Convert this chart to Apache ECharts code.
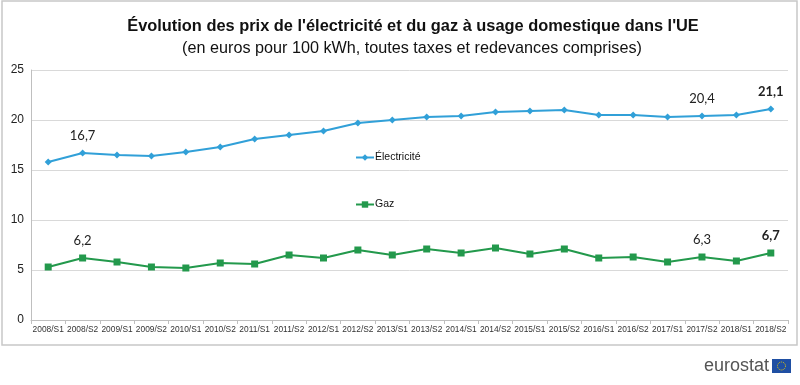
<!DOCTYPE html>
<html>
<head>
<meta charset="utf-8">
<script src="https://cdn.jsdelivr.net/npm/echarts@6/dist/echarts.min.js"></script>
<style>
html,body{margin:0;padding:0;background:#fff;}
#c{width:800px;height:385px;}
</style>
</head>
<body>
<div id="c"></div>
<script>
var categories = ['2008/S1','2008/S2','2009/S1','2009/S2','2010/S1','2010/S2','2011/S1','2011/S2','2012/S1','2012/S2','2013/S1','2013/S2','2014/S1','2014/S2','2015/S1','2015/S2','2016/S1','2016/S2','2017/S1','2017/S2','2018/S1','2018/S2'];
var electricite = [15.8,16.7,16.5,16.4,16.8,17.3,18.1,18.5,18.9,19.7,20.0,20.3,20.4,20.8,20.9,21.0,20.5,20.5,20.3,20.4,20.5,21.1];
var gaz = [5.3,6.2,5.8,5.3,5.2,5.7,5.6,6.5,6.2,7.0,6.5,7.1,6.7,7.2,6.6,7.1,6.2,6.3,5.8,6.3,5.9,6.7];
var labelIdx = [1,19,21];
var boldIdx = [21];
var yTicks = [0,5,10,15,20,25];

var FONT = "'Liberation Sans Narrow','Arial Narrow','Liberation Sans',Arial,sans-serif";
function fmt(v){ return String(v.toFixed(1)).replace('.', ','); }
function buildData(arr){
  return arr.map(function(v,i){
    if (labelIdx.indexOf(i) >= 0) {
      return {value:v, label:{show:true, position:'top', distance:7, color:'#222', fontSize:13, fontFamily:"Lato,'Liberation Sans',sans-serif", fontWeight: boldIdx.indexOf(i)>=0?'bold':'normal', formatter:function(p){return fmt(p.value);}}};
    }
    return v;
  });
}

var chart = echarts.init(document.getElementById('c'), null, {renderer:'canvas'});
chart.setOption({
  animation:false,
  backgroundColor:'#fff',
  title:[
    {text:"Évolution des prix de l'électricité et du gaz à usage domestique dans l'UE", left:408, textAlign:'center', top:13, textStyle:{fontFamily:FONT, fontSize:16.4, fontWeight:'bold', color:'#111'}},
    {text:"(en euros pour 100 kWh, toutes taxes et redevances comprises)", left:407, textAlign:'center', top:36, textStyle:{fontFamily:FONT, fontSize:16.2, fontWeight:'normal', color:'#111'}}
  ],
  legend:{
    orient:'vertical', left:355, top:152, padding:0, itemGap:36, itemWidth:18, itemHeight:8,
    textStyle:{fontFamily:"'Liberation Sans',Arial,sans-serif", fontSize:10.5, color:'#111', padding:[0,0,0,-4]},
    data:['Électricité','Gaz']
  },
  grid:{left:31, right:12, top:70, bottom:65, containLabel:false},
  xAxis:{
    type:'category', data:categories, boundaryGap:true,
    axisLine:{lineStyle:{color:'#bfbfbf'}},
    axisTick:{show:true, length:4, lineStyle:{color:'#bfbfbf'}},
    axisLabel:{interval:0, fontSize:8.4, color:'#333', fontFamily:"'Liberation Sans',Arial,sans-serif", margin:6}
  },
  yAxis:{
    type:'value', min:0, max:25, interval:5,
    axisLine:{show:true, lineStyle:{color:'#bfbfbf'}},
    axisTick:{show:false},
    splitLine:{lineStyle:{color:'#d9d9d9'}},
    axisLabel:{fontSize:12, color:'#222', fontFamily:"'Liberation Sans',Arial,sans-serif", margin:7,
      formatter:function(v){ return yTicks.indexOf(v)>=0 ? String(v) : ''; }}
  },
  series:[
    {name:'Électricité', type:'line', data:buildData(electricite), symbol:'diamond', symbolSize:7,
      lineStyle:{color:'#31a0d8', width:2.2}, itemStyle:{color:'#31a0d8'}},
    {name:'Gaz', type:'line', data:buildData(gaz), symbol:'rect', symbolSize:7,
      lineStyle:{color:'#23994c', width:2.2}, itemStyle:{color:'#23994c'}}
  ],
  graphic:[
    {type:'rect', shape:{x:2, y:1, width:795, height:344}, style:{fill:'none', stroke:'#c8c8c8', lineWidth:1.5}, silent:true},
    {type:'text', x:769, y:357, style:{text:'eurostat', align:'right', fontSize:18, fontFamily:"'Liberation Sans',Arial,sans-serif", fill:'#555'}},
    {type:'rect', shape:{x:772, y:359, width:19, height:14}, style:{fill:'#1f4fa3'}},
    {type:'circle', shape:{cx:781.5, cy:366, r:4}, style:{fill:'none', stroke:'#f0d000', lineWidth:1, lineDash:[1,1]}}
  ]
});
</script>
</body>
</html>
